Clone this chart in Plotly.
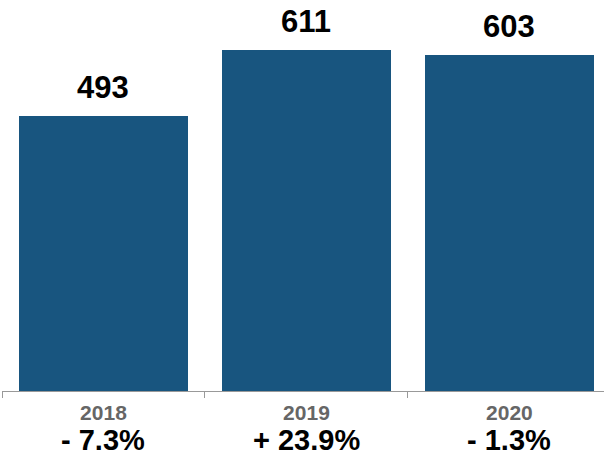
import plotly.graph_objects as go

years = ["2018", "2019", "2020"]
values = [493, 611, 603]
changes = ["- 7.3%", "+ 23.9%", "- 1.3%"]

bar_color = "#18557f"
font_family = "Liberation Sans, Arial, Helvetica, sans-serif"

fig = go.Figure(
    go.Bar(
        x=years,
        y=values,
        marker=dict(color=bar_color, line=dict(width=0)),
        width=0.833,
        hoverinfo="skip",
    )
)

# value labels above each bar (positioned by category index)
for i, v in enumerate(values):
    fig.add_annotation(
        x=i, y=v, xref="x", yref="y",
        text=str(v), showarrow=False,
        yanchor="bottom", yshift=9,
        font=dict(family=font_family, size=31, color="black", weight="bold"),
    )

# year-over-year change under each year label
for i, c in enumerate(changes):
    fig.add_annotation(
        x=i, y=-0.125, xref="x", yref="paper",
        text=c, showarrow=False,
        yanchor="middle",
        font=dict(family=font_family, size=29, color="black", weight="bold"),
    )

fig.update_layout(
    width=604, height=458,
    margin=dict(l=2, r=0, t=0, b=67),
    paper_bgcolor="white", plot_bgcolor="white",
    showlegend=False,
    bargap=0,
    xaxis=dict(
        type="category",
        range=[-0.5, 2.466],
        tickson="boundaries",
        ticks="outside", ticklen=6, tickcolor="#999999", tickwidth=1,
        ticklabelstandoff=3,
        showline=True, linecolor="#999999", linewidth=1,
        showgrid=False, zeroline=False,
        tickfont=dict(family=font_family, size=21, color="#666666", weight="bold"),
        fixedrange=True,
    ),
    yaxis=dict(
        range=[0, 700.7],
        visible=False, showgrid=False, zeroline=False,
        fixedrange=True,
    ),
)

fig.write_html("out.html")
